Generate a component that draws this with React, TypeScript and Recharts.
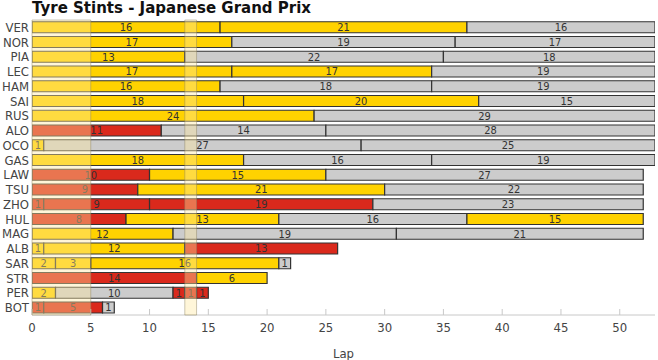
import React from 'react';
import { BarChart, Bar, XAxis, YAxis, Cell, LabelList, ReferenceArea } from 'recharts';

const drivers = ['VER','NOR','PIA','LEC','HAM','SAI','RUS','ALO','OCO','GAS','LAW','TSU','ZHO','HUL','MAG','ALB','SAR','STR','PER','BOT'];

const stintLaps: number[][] = [
  [16, 21, 16],
  [17, 19, 17],
  [13, 22, 18],
  [17, 17, 19],
  [16, 18, 19],
  [18, 20, 15],
  [24, 29],
  [11, 14, 28],
  [1, 27, 25],
  [18, 16, 19],
  [10, 15, 27],
  [9, 21, 22],
  [1, 9, 19, 23],
  [8, 13, 16, 15],
  [12, 19, 21],
  [1, 12, 13],
  [2, 3, 16, 1],
  [14, 6],
  [2, 10, 1, 1, 1],
  [1, 5, 1],
];

const stintCompounds: string[][] = [
  ['M', 'M', 'H'],
  ['M', 'H', 'H'],
  ['M', 'H', 'H'],
  ['M', 'M', 'H'],
  ['M', 'H', 'H'],
  ['M', 'M', 'H'],
  ['M', 'H'],
  ['S', 'H', 'H'],
  ['M', 'H', 'H'],
  ['M', 'H', 'H'],
  ['S', 'M', 'H'],
  ['S', 'M', 'H'],
  ['S', 'S', 'S', 'H'],
  ['S', 'M', 'H', 'M'],
  ['M', 'H', 'H'],
  ['M', 'M', 'S'],
  ['M', 'M', 'M', 'H'],
  ['S', 'M'],
  ['M', 'H', 'S', 'S', 'S'],
  ['S', 'S', 'H'],
];

const lapTicks = [0, 5, 10, 15, 20, 25, 30, 35, 40, 45, 50];
const lapDomain = [0, 53];
const neutralisedPeriods: [number, number][] = [[0, 5], [13, 14]];

const compoundColors: Record<string, string> = {
  S: '#DA291C',
  M: '#FFD200',
  H: '#CCCCCC',
};

const maxStints = Math.max(...stintLaps.map((s) => s.length));
const stintKeys = Array.from({ length: maxStints }, (_, i) => `s${i}`);

const rows = drivers.map((d, i) => {
  const row: Record<string, any> = { driver: d };
  stintLaps[i].forEach((v, k) => {
    row[`s${k}`] = v;
  });
  return row;
});

const FONT = '"DejaVu Sans Condensed", "DejaVu Sans", sans-serif';
const TICK_MARGIN = 7;

const XTick = (props: any) => {
  const { x, y, payload } = props;
  return (
    <g>
      <line x1={x} x2={x} y1={y - TICK_MARGIN - 6} y2={y - TICK_MARGIN} stroke="#c8c8c8" strokeWidth={1} />
      <text x={x} y={y} dy="0.8em" textAnchor="middle" fill="#444" fontSize={13} fontFamily={FONT}>
        {payload.value}
      </text>
    </g>
  );
};

export default function App() {
  return (
    <div style={{ position: 'absolute', left: 0, top: 0, width: 658, height: 360, background: '#fff' }}>
      <div
        style={{
          position: 'absolute',
          left: 32,
          top: 1,
          fontFamily: '"DejaVu Sans", sans-serif',
          fontWeight: 700,
          fontSize: 15,
          lineHeight: '15px',
          color: '#111',
          whiteSpace: 'nowrap',
          zIndex: 2,
        }}
      >
        Tyre Stints - Japanese Grand Prix
      </div>
      <BarChart
        width={658}
        height={360}
        data={rows}
        layout="vertical"
        margin={{ top: 20, right: 3, bottom: 0, left: 2 }}
        barCategoryGap="12%"
      >
        <XAxis
          type="number"
          domain={lapDomain}
          ticks={lapTicks}
          allowDataOverflow
          height={45}
          tickSize={0}
          tickMargin={TICK_MARGIN}
          tickLine={false}
          axisLine={{ stroke: '#c8c8c8' }}
          tick={<XTick />}
          label={{ value: 'Lap', position: 'insideBottom', offset: 2, fill: '#444', fontSize: 13, fontFamily: FONT }}
        />
        <YAxis
          type="category"
          dataKey="driver"
          width={30}
          tickSize={0}
          tickMargin={3}
          tickLine={false}
          axisLine={false}
          interval={0}
          tick={{ fill: '#444', fontSize: 13, fontFamily: FONT }}
        />
        {stintKeys.map((key, k) => (
          <Bar key={key} dataKey={key} stackId="stints" stroke="#333" strokeWidth={1.2} isAnimationActive={false}>
            {rows.map((_, i) => (
              <Cell key={i} fill={compoundColors[stintCompounds[i][k]] || 'none'} />
            ))}
            <LabelList dataKey={key} position="center" fill="#333" fontSize={11} fontFamily={FONT} />
          </Bar>
        ))}
        {neutralisedPeriods.map(([a, b], i) => (
          <ReferenceArea
            key={i}
            x1={a}
            x2={b}
            fill="#FFE9A0"
            fillOpacity={0.4}
            stroke="#8a8060"
            strokeOpacity={0.45}
            strokeWidth={1}
            zIndex={3000}
            ifOverflow="visible"
          />
        ))}
      </BarChart>
    </div>
  );
}
